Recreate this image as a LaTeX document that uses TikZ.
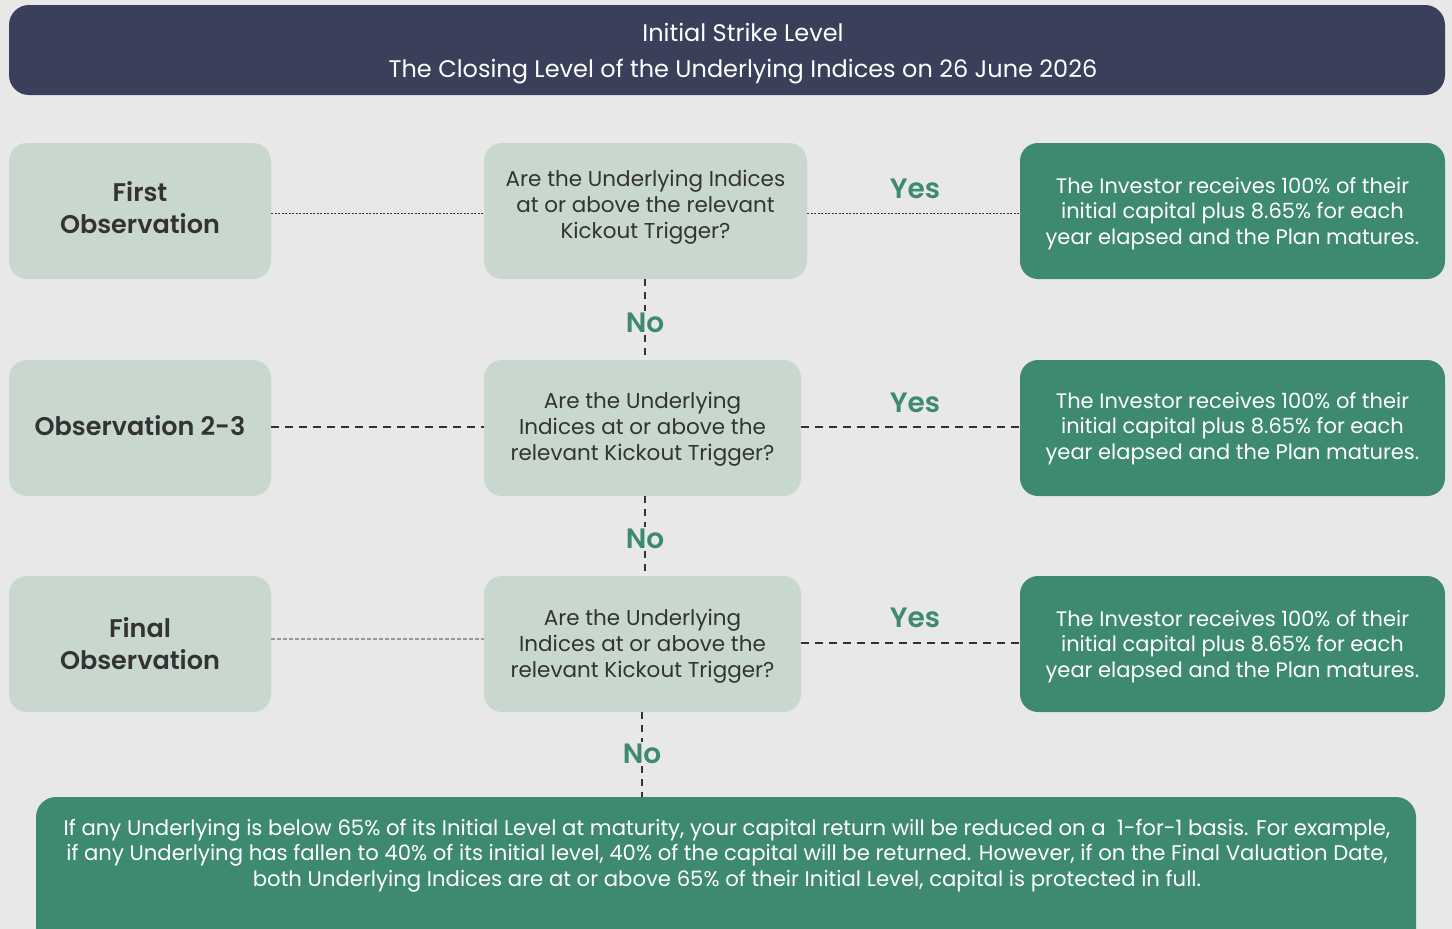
\documentclass[tikz,border=0pt]{standalone}
\usepackage{fontspec}
\setmainfont{Poppins}[BoldFont={Poppins SemiBold}]
\usetikzlibrary{positioning}
\definecolor{bg}{HTML}{E8E8E8}
\definecolor{navy}{HTML}{3A4059}
\definecolor{lightbox}{HTML}{C9D8CF}
\definecolor{darkgreen}{HTML}{3D8A70}
\definecolor{txt}{HTML}{333333}
\tikzset{
  obsbox/.style={fill=lightbox,rounded corners=18pt,inner sep=0pt,minimum height=136pt},
  resbox/.style={fill=darkgreen,rounded corners=18pt,inner sep=0pt,minimum height=136pt},
  obstext/.style={text=txt,align=center,font=\fontsize{25.5}{32}\selectfont\bfseries,inner sep=0pt},
  qtext/.style={text=txt,align=center,font=\fontsize{21.5}{26}\selectfont,inner sep=0pt},
  restext/.style={text=white,align=center,font=\fontsize{21}{25.7}\selectfont,inner sep=0pt},
  lbl/.style={text=darkgreen,font=\fontsize{28}{30}\selectfont\bfseries,inner sep=2pt},
  fineline/.style={draw=txt,line width=1pt,dash pattern=on 2pt off 1.5pt},
  midline/.style={draw=txt,line width=2pt,dash pattern=on 8pt off 6pt},
  greyline/.style={draw=gray!80,line width=2pt,dash pattern=on 4pt off 2pt},
  vline/.style={draw=txt,line width=2pt,dash pattern=on 7pt off 6pt},
}
\begin{document}
\begin{tikzpicture}[x=1pt,y=-1pt]
\fill[bg] (0,0) rectangle (1452,929);
\useasboundingbox (0,0) rectangle (1452,929);
% header
\fill[navy,rounded corners=20pt] (9,5) rectangle (1445,95);
\node[text=white,font=\fontsize{24}{36}\selectfont,align=center] (hdr) at (743,54) {Initial Strike Level\\The Closing Level of the Underlying Indices on 26 June 2026};
% row 1
\node[obsbox,minimum width=262pt] (o1) at (140,211) {};
\node[obstext] (o1t) at (140,208) {First\\Observation};
\node[obsbox,minimum width=323pt] (q1) at (645.5,211) {};
\node[qtext] (q1t) at (645.5,207) {Are the Underlying Indices\\at or above the relevant\\Kickout Trigger?};
\node[resbox,minimum width=425pt] (r1) at (1232.5,211) {};
\node[restext] (r1t) at (1232.5,213.5) {The Investor receives 100\% of their\\initial capital plus 8.65\% for each\\year elapsed and the Plan matures.};
% row 2
\node[obsbox,minimum width=262pt] (o2) at (140,428) {};
\node[obstext] (o2t) at (140,426) {Observation 2-3};
\node[obsbox,minimum width=317pt] (q2) at (642.5,428) {};
\node[qtext] (q2t) at (642.5,429) {Are the Underlying\\Indices at or above the\\relevant Kickout Trigger?};
\node[resbox,minimum width=425pt] (r2) at (1232.5,428) {};
\node[restext] (r2t) at (1232.5,428.5) {The Investor receives 100\% of their\\initial capital plus 8.65\% for each\\year elapsed and the Plan matures.};
% row 3
\node[obsbox,minimum width=262pt] (o3) at (140,644) {};
\node[obstext] (o3t) at (140,644) {Final\\Observation};
\node[obsbox,minimum width=317pt] (q3) at (642.5,644) {};
\node[qtext] (q3t) at (642.5,646.5) {Are the Underlying\\Indices at or above the\\relevant Kickout Trigger?};
\node[resbox,minimum width=425pt] (r3) at (1232.5,644) {};
\node[restext] (r3t) at (1232.5,646.5) {The Investor receives 100\% of their\\initial capital plus 8.65\% for each\\year elapsed and the Plan matures.};
% bottom
\fill[darkgreen,rounded corners=20pt] (36,797) rectangle (1416,960);
\node[text=white,font=\fontsize{21.2}{25.7}\selectfont,align=center] (fin) at (727,855.5) {If any Underlying is below 65\% of its Initial Level at maturity, your capital return will be reduced on a \ 1-for-1 basis. For example,\\if any Underlying has fallen to 40\% of its initial level, 40\% of the capital will be returned. However, if on the Final Valuation Date,\\both Underlying Indices are at or above 65\% of their Initial Level, capital is protected in full.};
\coordinate (finTop) at (642,797);
% labels
\node[lbl] (y1) at (915,189) {Yes};
\node[lbl] (y2) at (915,403) {Yes};
\node[lbl] (y3) at (915,618) {Yes};
\node[lbl] (n1) at (645,323) {No};
\node[lbl] (n2) at (645,539) {No};
\node[lbl] (n3) at (642,754) {No};
% horizontal connectors
\draw[fineline] (o1.east |- 0,213) -- (q1.west |- 0,213);
\draw[fineline] (q1.east |- 0,213) -- (r1.west |- 0,213);
\draw[midline] (o2.east |- 0,427) -- (q2.west |- 0,427);
\draw[midline] (q2.east |- 0,427) -- (r2.west |- 0,427);
\draw[greyline] (o3.east |- 0,639) -- (q3.west |- 0,639);
\draw[midline] (q3.east |- 0,643) -- (r3.west |- 0,643);
% vertical connectors
\draw[vline] (q1.south -| n1) -- (n1.north);
\draw[vline] (n1.south) -- (q2.north -| n1);
\draw[vline] (q2.south -| n2) -- (n2.north);
\draw[vline] (n2.south) -- (q3.north -| n2);
\draw[vline] (q3.south -| n3) -- (n3.north);
\draw[vline] (n3.south) -- (finTop);
\end{tikzpicture}
\end{document}
